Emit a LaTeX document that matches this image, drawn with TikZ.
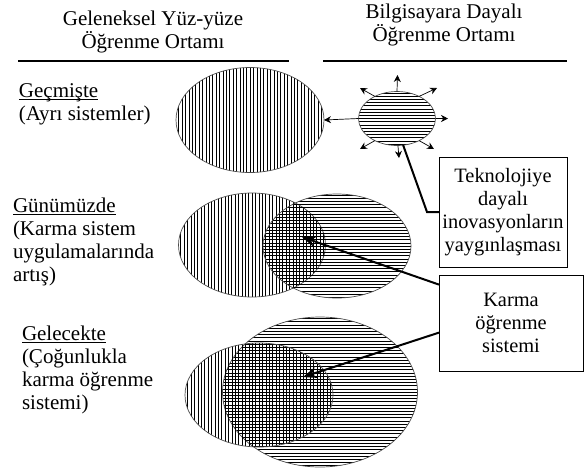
\documentclass[tikz,border=0pt]{standalone}
\usepackage{fontspec}
\setmainfont{Liberation Serif}
\usetikzlibrary{shapes.geometric,arrows.meta,calc}

% underline set close under the baseline, through the cedillas
\newcommand\ulword[1]{\setbox0\hbox{#1}\rlap{\vrule width\wd0 height -2.4pt depth 3.2pt}\box0}

\begin{document}
\begin{tikzpicture}[x=1pt,y=-1pt,
  txt/.style={font=\fontsize{21}{23}\selectfont, inner sep=0pt, outer sep=0pt},
  hatchline/.style={line width=0.55pt, black},
  zone/.style={ellipse, draw=black!70, line width=0.7pt, inner sep=0pt, outer sep=0pt},
  vhatch/.style={path picture={
      \foreach \k in {-34,...,34}{
        \draw[hatchline] ($(path picture bounding box.center)+(\k*3.4,-90)$) -- ++(0,180);}}},
  hhatch/.style={path picture={
      \foreach \k in {-26,...,26}{
        \draw[hatchline] ($(path picture bounding box.center)+(-110,\k*3.2)$) -- ++(220,0);}}},
  rule/.style={line width=2.3pt},
  burst/.style={line width=0.7pt, -{Stealth[length=7pt,width=7pt]}},
  pointer/.style={line width=2pt, -{Stealth[length=14pt,width=11pt]}},
  link/.style={line width=2pt},
  infobox/.style={draw, line width=0.9pt, inner sep=0pt, outer sep=0pt, align=center,
      font=\fontsize{20.4}{23}\selectfont}
]
\useasboundingbox (0,0) rectangle (584,475);

% column headings (anchored on the baseline of their last line)
\node[txt, align=center, anchor=base] (hdrL) at (153,48) {Geleneksel Yüz-yüze\\Öğrenme Ortamı};
\node[txt, align=center, anchor=base] (hdrR) at (444,41) {Bilgisayara Dayalı\\Öğrenme Ortamı};
\coordinate (rLa) at (18,61);
\coordinate (rLb) at (289,61);
\coordinate (rRa) at (323,61);
\coordinate (rRb) at (567,61);
\draw[rule] (rLa) -- (rLb);
\draw[rule] (rRa) -- (rRb);

% row labels
\node[txt, align=left, anchor=base west] (past) at (19,120)
  {\ulword{Geçmişte}\\(Ayrı sistemler)};
\node[txt, align=left, anchor=base west] (now) at (13,281)
  {\ulword{Günümüzde}\\(Karma sistem\\uygulamalarında\\artış)};
\node[txt, align=left, anchor=base west] (future) at (22,409)
  {\ulword{Gelecekte}\\(Çoğunlukla\\karma öğrenme\\sistemi)};

% past: two separate systems
\node[zone, vhatch, minimum width=148pt, minimum height=105pt] (pastT) at (250,120) {};
\node[zone, hhatch, minimum width=77pt, minimum height=54pt] (pastC) at (397,118.5) {};

% present: partial overlap
\node[zone, vhatch, minimum width=147pt, minimum height=104pt] (nowT) at (252,245) {};
\node[zone, hhatch, minimum width=148pt, minimum height=104pt] (nowC) at (337,246) {};

% future: mostly blended
\node[zone, hhatch, minimum width=195pt, minimum height=150pt] (futC) at (320,392) {};
\node[zone, vhatch, minimum width=148pt, minimum height=104pt] (futT) at (259,395) {};

% spreading arrows round the computer-based system
\coordinate (bN)  at (397.5,75);
\coordinate (bNE) at (437,88);
\coordinate (bNW) at (360,88);
\coordinate (bE)  at (448,118.5);
\coordinate (bSE) at (434,149);
\coordinate (bSW) at (360,149);
\coordinate (bS)  at (399,158);
\draw[burst] (pastC.north) -- (bN);
\draw[burst] (pastC.45) -- (bNE);
\draw[burst] (pastC.135) -- (bNW);
\draw[burst] (pastC.east) -- (bE);
\draw[burst] (pastC.-45) -- (bSE);
\draw[burst] (pastC.-135) -- (bSW);
\draw[burst] (pastC.-88) -- (bS);
\draw[burst] (pastC.west) -- (pastT.east);

% text boxes
\node[infobox, minimum width=128pt, minimum height=110pt] (tech) at (503,212)
  {Teknolojiye\\dayalı\\inovasyonların\\yaygınlaşması};
\node[infobox, minimum width=144pt, minimum height=96pt] (blend) at (511,323)
  {Karma\\öğrenme\\sistemi};

% connectors
\coordinate (techBend) at (427,212);
\draw[link] (pastC.-77) -- (techBend) -- (tech.west);

\coordinate (nowMix) at (302,237);
\coordinate (futMix) at (303,377);
\draw[pointer] ($(blend.north west)!0.1!(blend.south west)$) -- (nowMix);
\draw[pointer] ($(blend.north west)!0.6!(blend.south west)$) -- (futMix);
\end{tikzpicture}
\end{document}
